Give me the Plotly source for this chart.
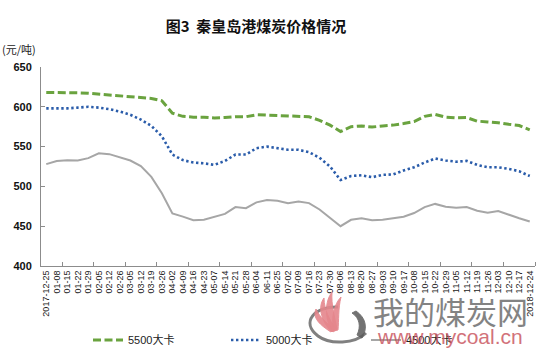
import plotly.graph_objects as go

dates = ["2017-12-25", "01-08", "01-15", "01-22", "01-29", "02-05", "02-12", "02-26",
         "03-05", "03-12", "03-19", "03-26", "04-02", "04-09", "04-16", "04-23",
         "05-07", "05-14", "05-21", "05-28", "06-04", "06-11", "06-25", "07-02",
         "07-09", "07-16", "07-23", "07-30", "08-06", "08-13", "08-20", "08-27",
         "09-03", "09-10", "09-17", "10-08", "10-15", "10-22", "10-29", "11-05",
         "11-12", "11-19", "11-26", "12-03", "12-10", "12-17", "2018-12-24"]

kcal5500 = [618, 618, 618, 617.5, 617, 616, 615, 614, 613, 612, 610.5, 607.5,
            592, 588, 587, 587, 586, 586.5, 587.5, 587.5, 590, 589.5, 589, 588.5,
            588, 587.5, 583, 577, 569, 575, 576, 574.5, 576, 577, 579, 581.5,
            588, 590.5, 587, 586, 586.5, 582, 581, 580, 578, 576.5, 571]

kcal5000 = [598, 598, 598, 599, 600, 599, 597, 594, 590, 584, 576, 563,
            540, 533, 530, 529, 527, 532, 540, 540, 548, 550, 548, 546,
            546, 543, 536, 525, 508, 513, 514, 511.5, 514.5, 515, 520, 524,
            530, 535, 532.5, 531, 532, 527, 524, 524, 522, 519, 513]

kcal4500 = [528, 532, 533, 532.5, 535.5, 541.5, 540.5, 536, 532.5, 525.5, 512, 491.5,
            466, 462, 457.5, 458, 462, 465.5, 474, 472.6, 480, 483, 482, 479,
            481, 479, 471, 460, 450, 458, 460, 457.5, 458, 460, 462, 466.5,
            474, 478, 474.5, 473.3, 474, 469.5, 467, 469, 464, 460, 456]

series_names = ["5500大卡", "5000大卡", "4500大卡"]
y_ticks = [400, 450, 500, 550, 600, 650]

W, H = 549, 354
ML, MR, MT, MB = 41, 14, 67, 88
PW, PH = W - ML - MR, H - MT - MB

def P(px, py):
    return f"{(px - ML) / PW:.4f},{(H - MB - py) / PH:.4f}"

idx = list(range(len(dates)))

fig = go.Figure()
fig.add_trace(go.Scatter(x=idx, y=kcal5500, mode="lines", name=series_names[0],
                         line=dict(color="#6aa33f", width=3, dash="8px,3.5px"),
                         legend="legend", showlegend=True))
fig.add_trace(go.Scatter(x=idx, y=kcal5000, mode="lines", name=series_names[1],
                         line=dict(color="#2a5caa", width=2.6, dash="2.4px,2.6px"),
                         legend="legend2", showlegend=True))
fig.add_trace(go.Scatter(x=idx, y=kcal4500, mode="lines", name=series_names[2],
                         line=dict(color="#a6a6a6", width=2),
                         legend="legend3", showlegend=True))

legend_common = dict(orientation="h", yref="container", xref="container",
                     yanchor="middle", y=1 - 340 / H, xanchor="left",
                     bgcolor="rgba(0,0,0,0)", borderwidth=0,
                     font=dict(family="Liberation Sans, Noto Sans CJK SC", size=11, color="#222"))

# logo shapes (decoration)
flame = "#e5868c"
shapes = [
    dict(type="path", xref="paper", yref="paper", layer="above",
         path=f"M{P(338,307)} C{P(315,306)} {P(300,322)} {P(318,336)} "
              f"C{P(330,345)} {P(355,344)} {P(366,333)}",
         line=dict(color="#6a6a6a", width=3), fillcolor="rgba(0,0,0,0)", opacity=0.85),
    dict(type="path", xref="paper", yref="paper", layer="above",
         path=f"M{P(356,311)} C{P(366,318)} {P(368,328)} {P(362,338)} "
              f"L{P(357,335)} C{P(361,327)} {P(360,318)} {P(352,313)} Z",
         line=dict(color="#5a5a5a", width=1), fillcolor="#5a5a5a", opacity=0.85),
    dict(type="path", xref="paper", yref="paper", layer="above",
         path=f"M{P(331,332)} C{P(320,325)} {P(312,318)} {P(316,309)} "
              f"C{P(320,318)} {P(327,323)} {P(333,328)} Z",
         line=dict(color=flame, width=1), fillcolor=flame, opacity=0.9),
    dict(type="path", xref="paper", yref="paper", layer="above",
         path=f"M{P(332,332)} C{P(320,320)} {P(318,306)} {P(324,298)} "
              f"C{P(324,310)} {P(330,320)} {P(335,328)} Z",
         line=dict(color=flame, width=1), fillcolor=flame, opacity=0.9),
    dict(type="path", xref="paper", yref="paper", layer="above",
         path=f"M{P(333,332)} C{P(324,318)} {P(325,301)} {P(332,292)} "
              f"C{P(331,305)} {P(335,318)} {P(337,329)} Z",
         line=dict(color=flame, width=1), fillcolor=flame, opacity=0.9),
    dict(type="path", xref="paper", yref="paper", layer="above",
         path=f"M{P(334,331)} C{P(331,318)} {P(334,304)} {P(341,297)} "
              f"C{P(338,309)} {P(339,320)} {P(338,330)} Z",
         line=dict(color=flame, width=1), fillcolor=flame, opacity=0.9),
]

fig.update_layout(
    width=W, height=H,
    showlegend=True,
    margin=dict(l=ML, r=MR, t=MT, b=MB, autoexpand=False),
    paper_bgcolor="white", plot_bgcolor="white",
    title=dict(text="图3  秦皇岛港煤炭价格情况", x=256 / W, xanchor="center",
               y=1 - 27 / H, yanchor="middle",
               font=dict(family="Noto Sans CJK SC", size=15, color="#111", weight="bold")),
    legend=dict(x=88 / W, **legend_common),
    legend2=dict(x=226 / W, **legend_common),
    legend3=dict(x=366 / W, **legend_common),
    xaxis=dict(range=[-0.5, 46.5], tickmode="array", tickvals=idx, ticktext=dates,
               tickangle=-90, ticks="", showgrid=False, zeroline=False, automargin=False,
               showline=True, linecolor="#8c8c8c", linewidth=1,
               tickfont=dict(family="Liberation Sans", size=9, color="#222"),
               minor=dict(tickmode="array", tickvals=[1.5 + 3 * k for k in range(16)],
                          ticks="inside", ticklen=4, tickcolor="#8c8c8c", showgrid=False)),
    yaxis=dict(range=[400, 650], tickmode="array", tickvals=y_ticks, automargin=False,
               ticks="inside", ticklen=4, tickcolor="#8c8c8c",
               showgrid=False, zeroline=False, showline=True, linecolor="#8c8c8c", linewidth=1,
               ticklabelstandoff=6,
               tickfont=dict(family="Liberation Sans", size=11, color="#111", weight="bold")),
    shapes=shapes,
    annotations=[
        dict(text="(元/吨)", xref="paper", yref="paper", x=-ML / PW, y=1 + (MT - 49) / PH,
             xanchor="left", yanchor="middle", showarrow=False,
             font=dict(family="Noto Sans CJK SC", size=11, color="#222")),
        dict(text="我的煤炭网", xref="paper", yref="paper", x=(450 - ML) / PW,
             y=-(310 - (H - MB)) / PH, xanchor="center", yanchor="middle", showarrow=False,
             opacity=0.85,
             font=dict(family="Noto Sans CJK SC", size=31, color="#6e6e6e")),
        dict(text="www.mycoal.cn", xref="paper", yref="paper", x=(450 - ML) / PW,
             y=-(336 - (H - MB)) / PH, xanchor="center", yanchor="middle", showarrow=False,
             opacity=0.8,
             font=dict(family="Liberation Sans", size=21, color="#c8505a")),
    ],
)

fig.write_html("out.html")
